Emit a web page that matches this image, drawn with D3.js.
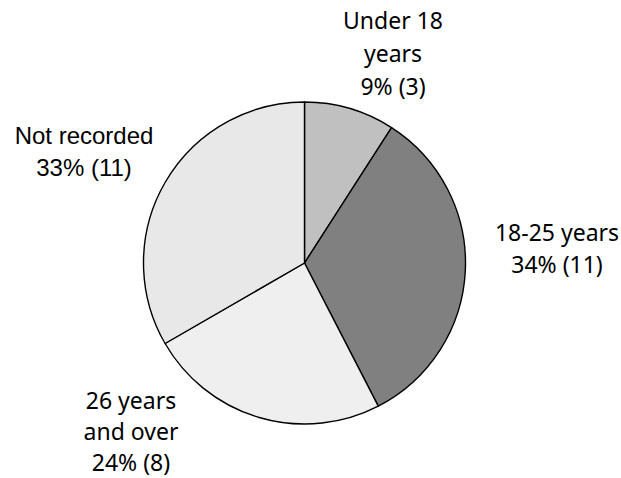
<!DOCTYPE html>
<html><head><meta charset="utf-8">
<script src="https://cdn.jsdelivr.net/npm/d3@7"></script>
<style>html,body{margin:0;padding:0;background:#fff;}</style>
</head><body>
<svg id="chart" width="621" height="478"></svg>
<script>
const categories = ["Under 18 years", "18-25 years", "26 years and over", "Not recorded"];
const counts = [3, 11, 8, 11];
const percents = ["9%", "34%", "24%", "33%"];
const labelLines = [["Under 18", "years", "9% (3)"], ["18-25 years", "34% (11)"], ["26 years", "and over", "24% (8)"], ["Not recorded", "33% (11)"]];
const colors = ["#c0c0c0", "#808080", "#efefef", "#e8e8e8"];

const svg = d3.select("#chart");
const cx = 304.5, cy = 263, r = 161;
const pie = d3.pie().sort(null).value(d => d)(counts);
const arc = d3.arc().innerRadius(0).outerRadius(r);
const g = svg.append("g").attr("transform", `translate(${cx},${cy})`);
g.selectAll("path").data(pie).enter().append("path")
  .attr("d", arc).attr("fill", (d, i) => colors[i])
  .attr("stroke", "#000").attr("stroke-width", 1.4).attr("stroke-linejoin", "round");

const labelPos = [
  {x: 393, y: 21, dy: 33, font: "'Noto Sans', sans-serif", size: 23},
  {x: 557, y: 233, dy: 32, font: "'Noto Sans', sans-serif", size: 23},
  {x: 131, y: 401, dy: 31, font: "'Noto Sans', sans-serif", size: 23},
  {x: 84, y: 135, dy: 32, font: "'Liberation Sans', Arial, sans-serif", size: 24}
];
labelLines.forEach((lines, i) => {
  const p = labelPos[i];
  const t = svg.append("text").attr("text-anchor", "middle")
    .attr("font-family", p.font).attr("font-size", p.size).attr("fill", "#000");
  lines.forEach((ln, k) => {
    t.append("tspan").attr("x", p.x).attr("y", p.y + k * p.dy + p.size * 0.36).text(ln);
  });
});
</script>
</body></html>
